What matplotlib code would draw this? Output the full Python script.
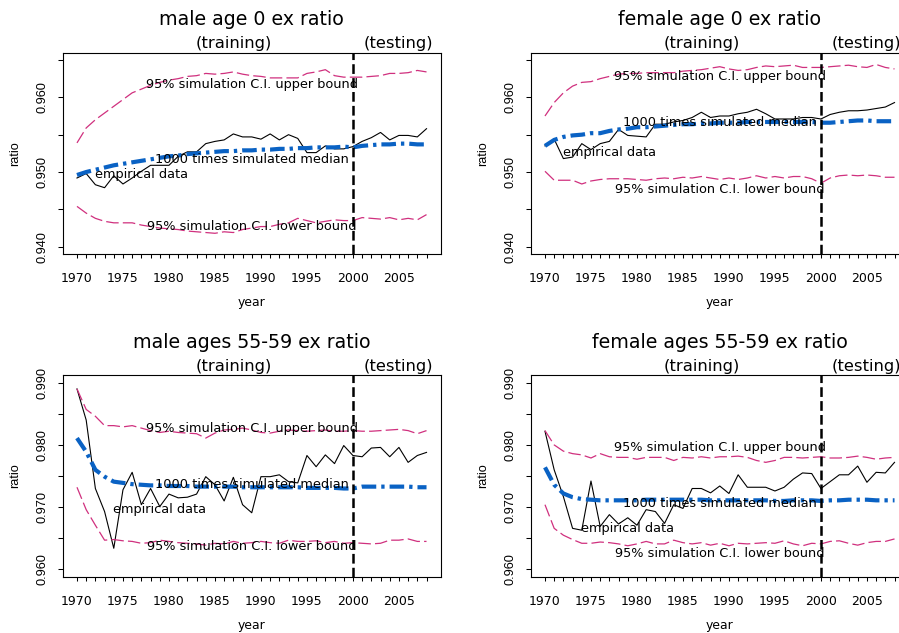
import numpy as np
import matplotlib
matplotlib.use('Agg')
import matplotlib.pyplot as plt
import matplotlib.transforms as mtransforms
from matplotlib.ticker import FixedLocator, FuncFormatter

plt.rcParams['lines.scale_dashes'] = False

years = list(range(1970, 2009))

# male age 0
emp1 = [0.9492, 0.9498, 0.9483, 0.9479, 0.9495, 0.9484, 0.9492, 0.9501, 0.9509, 0.9509,
        0.9509, 0.9521, 0.9527, 0.9527, 0.9538, 0.9541, 0.9543, 0.9551, 0.9547, 0.9547,
        0.9544, 0.9551, 0.9543, 0.9550, 0.9545, 0.9526, 0.9526, 0.9535, 0.9531, 0.9531,
        0.9534, 0.9541, 0.9546, 0.9553, 0.9543, 0.9549, 0.9549, 0.9547, 0.9558]
med1 = [0.9496, 0.9500, 0.9503, 0.9506, 0.9509, 0.9511, 0.9513, 0.9515, 0.9517, 0.9519,
        0.9521, 0.9522, 0.9524, 0.9525, 0.9526, 0.9527, 0.9528, 0.9528, 0.9529, 0.9529,
        0.9530, 0.9530, 0.9531, 0.9531, 0.9532, 0.9532, 0.9533, 0.9533, 0.9533, 0.9534,
        0.9533, 0.9535, 0.9536, 0.9537, 0.9537, 0.9538, 0.9538, 0.9537, 0.9537]
up1 = [0.9539, 0.9559, 0.9570, 0.9579, 0.9588, 0.9597, 0.9606, 0.9611, 0.9616, 0.9620,
       0.9623, 0.9625, 0.9628, 0.9629, 0.9632, 0.9631, 0.9632, 0.9634, 0.9631, 0.9629,
       0.9628, 0.9626, 0.9626, 0.9626, 0.9626, 0.9632, 0.9634, 0.9637, 0.9629, 0.9627,
       0.9627, 0.9627, 0.9628, 0.9629, 0.9632, 0.9632, 0.9633, 0.9636, 0.9634]
lo1 = [0.9454, 0.9445, 0.9438, 0.9434, 0.9432, 0.9432, 0.9432, 0.9429, 0.9427, 0.9425,
       0.9424, 0.9423, 0.9421, 0.9420, 0.9419, 0.9418, 0.9420, 0.9419, 0.9423, 0.9425,
       0.9427, 0.9427, 0.9430, 0.9432, 0.9438, 0.9435, 0.9432, 0.9434, 0.9436, 0.9435,
       0.9435, 0.9439, 0.9438, 0.9437, 0.9439, 0.9436, 0.9438, 0.9436, 0.9443]

# female age 0
emp2 = [0.9535, 0.9544, 0.9518, 0.9520, 0.9538, 0.9530, 0.9538, 0.9541, 0.9557, 0.9549,
        0.9548, 0.9547, 0.9564, 0.9564, 0.9567, 0.9569, 0.9573, 0.9580, 0.9573, 0.9575,
        0.9575, 0.9578, 0.9580, 0.9584, 0.9578, 0.9571, 0.9571, 0.9571, 0.9573, 0.9573,
        0.9571, 0.9577, 0.9580, 0.9582, 0.9582, 0.9583, 0.9585, 0.9587, 0.9593]
med2 = [0.9535, 0.9543, 0.9547, 0.9549, 0.9550, 0.9552, 0.9552, 0.9555, 0.9557, 0.9558,
        0.9560, 0.9560, 0.9561, 0.9562, 0.9563, 0.9564, 0.9564, 0.9565, 0.9565, 0.9566,
        0.9566, 0.9566, 0.9567, 0.9567, 0.9567, 0.9567, 0.9567, 0.9567, 0.9567, 0.9567,
        0.9566, 0.9566, 0.9567, 0.9568, 0.9569, 0.9569, 0.9568, 0.9568, 0.9568]
up2 = [0.9575, 0.9593, 0.9606, 0.9615, 0.9620, 0.9621, 0.9625, 0.9628, 0.9631, 0.9632,
       0.9632, 0.9633, 0.9633, 0.9633, 0.9633, 0.9635, 0.9636, 0.9637, 0.9639, 0.9641,
       0.9638, 0.9636, 0.9637, 0.9640, 0.9642, 0.9641, 0.9642, 0.9643, 0.9640, 0.9640,
       0.9640, 0.9641, 0.9642, 0.9643, 0.9641, 0.9640, 0.9644, 0.9640, 0.9638]
lo2 = [0.9501, 0.9489, 0.9489, 0.9489, 0.9484, 0.9488, 0.9490, 0.9491, 0.9491, 0.9491,
       0.9490, 0.9489, 0.9491, 0.9492, 0.9491, 0.9493, 0.9492, 0.9494, 0.9492, 0.9490,
       0.9492, 0.9490, 0.9492, 0.9495, 0.9492, 0.9494, 0.9492, 0.9494, 0.9494, 0.9491,
       0.9485, 0.9492, 0.9495, 0.9496, 0.9495, 0.9496, 0.9495, 0.9493, 0.9493]

# male ages 55-59
emp3 = [0.9890, 0.9840, 0.9730, 0.9693, 0.9634, 0.9728, 0.9756, 0.9704, 0.9730, 0.9701,
        0.9721, 0.9715, 0.9716, 0.9721, 0.9749, 0.9736, 0.9710, 0.9748, 0.9704, 0.9691,
        0.9749, 0.9749, 0.9752, 0.9741, 0.9739, 0.9783, 0.9765, 0.9784, 0.9770, 0.9799,
        0.9783, 0.9781, 0.9795, 0.9796, 0.9781, 0.9796, 0.9772, 0.9783, 0.9788]
med3 = [0.9811, 0.9789, 0.9760, 0.9749, 0.9741, 0.9739, 0.9737, 0.9736, 0.9735, 0.9735,
        0.9734, 0.9734, 0.9734, 0.9733, 0.9733, 0.9733, 0.9733, 0.9733, 0.9732, 0.9732,
        0.9732, 0.9732, 0.9732, 0.9732, 0.9732, 0.9731, 0.9731, 0.9731, 0.9731, 0.9730,
        0.9730, 0.9733, 0.9733, 0.9733, 0.9733, 0.9733, 0.9733, 0.9732, 0.9732]
up3 = [0.9890, 0.9857, 0.9846, 0.9831, 0.9831, 0.9829, 0.9831, 0.9827, 0.9823, 0.9820,
       0.9822, 0.9820, 0.9819, 0.9818, 0.9811, 0.9819, 0.9824, 0.9825, 0.9827, 0.9824,
       0.9820, 0.9819, 0.9822, 0.9824, 0.9823, 0.9822, 0.9823, 0.9824, 0.9822, 0.9822,
       0.9823, 0.9822, 0.9822, 0.9823, 0.9824, 0.9825, 0.9823, 0.9818, 0.9823]
lo3 = [0.9732, 0.9696, 0.9671, 0.9647, 0.9648, 0.9646, 0.9645, 0.9642, 0.9643, 0.9647,
       0.9645, 0.9643, 0.9642, 0.9641, 0.9639, 0.9642, 0.9641, 0.9645, 0.9642, 0.9643,
       0.9645, 0.9643, 0.9642, 0.9647, 0.9645, 0.9645, 0.9646, 0.9643, 0.9645, 0.9642,
       0.9643, 0.9642, 0.9641, 0.9642, 0.9647, 0.9647, 0.9649, 0.9645, 0.9645]

# female ages 55-59
emp4 = [0.9822, 0.9760, 0.9717, 0.9666, 0.9663, 0.9742, 0.9669, 0.9688, 0.9673, 0.9683,
        0.9671, 0.9696, 0.9693, 0.9674, 0.9704, 0.9698, 0.9730, 0.9730, 0.9723, 0.9734,
        0.9722, 0.9752, 0.9732, 0.9732, 0.9732, 0.9726, 0.9732, 0.9745, 0.9755, 0.9754,
        0.9730, 0.9741, 0.9752, 0.9752, 0.9766, 0.9740, 0.9756, 0.9755, 0.9772]
med4 = [0.9764, 0.9736, 0.9722, 0.9716, 0.9713, 0.9712, 0.9711, 0.9711, 0.9711, 0.9711,
        0.9711, 0.9712, 0.9712, 0.9712, 0.9712, 0.9712, 0.9712, 0.9712, 0.9711, 0.9711,
        0.9711, 0.9711, 0.9711, 0.9711, 0.9711, 0.9710, 0.9710, 0.9711, 0.9711, 0.9711,
        0.9710, 0.9711, 0.9711, 0.9712, 0.9712, 0.9712, 0.9711, 0.9711, 0.9711]
up4 = [0.9823, 0.9800, 0.9790, 0.9786, 0.9784, 0.9779, 0.9786, 0.9781, 0.9780, 0.9780,
       0.9777, 0.9780, 0.9780, 0.9780, 0.9775, 0.9780, 0.9779, 0.9781, 0.9779, 0.9781,
       0.9781, 0.9782, 0.9780, 0.9775, 0.9772, 0.9775, 0.9780, 0.9780, 0.9779, 0.9780,
       0.9781, 0.9779, 0.9779, 0.9780, 0.9782, 0.9780, 0.9777, 0.9779, 0.9780]
lo4 = [0.9704, 0.9666, 0.9655, 0.9648, 0.9642, 0.9642, 0.9644, 0.9643, 0.9641, 0.9638,
       0.9641, 0.9645, 0.9641, 0.9641, 0.9647, 0.9643, 0.9641, 0.9643, 0.9639, 0.9642,
       0.9638, 0.9642, 0.9641, 0.9642, 0.9643, 0.9642, 0.9646, 0.9641, 0.9638, 0.9642,
       0.9641, 0.9645, 0.9646, 0.9642, 0.9639, 0.9643, 0.9645, 0.9645, 0.9649]

titles = ['male age 0 ex ratio', 'female age 0 ex ratio',
          'male ages 55-59 ex ratio', 'female ages 55-59 ex ratio']
ylims = [(0.94, 0.965), (0.94, 0.965), (0.96, 0.99), (0.96, 0.99)]
# label positions (x, y) for: upper, median, empirical, lower
label_pos = [
    [(1989, 0.9617), (1989, 0.95173), (1977, 0.94962), (1989, 0.94268)],
    [(1989, 0.96274), (1989, 0.95664), (1977, 0.95262), (1989, 0.94770)],
    [(1989, 0.98256), (1989, 0.97367), (1979, 0.96965), (1989, 0.96375)],
    [(1989, 0.97955), (1989, 0.97061), (1979, 0.96659), (1989, 0.96257)],
]
label_txt = ['95% simulation C.I. upper bound', '1000 times simulated median',
             'empirical data', '95% simulation C.I. lower bound']

data = [(emp1, med1, up1, lo1), (emp2, med2, up2, lo2),
        (emp3, med3, up3, lo3), (emp4, med4, up4, lo4)]

W, H = 899, 633
rects = [(63, 52.5), (531, 52.5), (63, 375.2), (531, 375.2)]
aw, ah = 377.5, 201.7

pink = '#d0307e'
blue = '#0a62c4'

fig = plt.figure(figsize=(W / 100, H / 100), dpi=100)

for k in range(4):
    x0, y0 = rects[k]
    ax = fig.add_axes([x0 / W, 1 - (y0 + ah) / H, aw / W, ah / H])
    emp, med, up, lo = data[k]
    ax.plot(years, emp, color='black', lw=0.8)
    ax.plot(years, med, color=blue, lw=3.0, dashes=(10.5, 3.6, 2.4, 3.6))
    ax.plot(years, up, color=pink, lw=0.9, dashes=(9, 3))
    ax.plot(years, lo, color=pink, lw=0.9, dashes=(9, 3))
    ax.axvline(2000, color='black', lw=1.8, dashes=(7, 3))

    lo_y, hi_y = ylims[k]
    pad = 0.04 * (hi_y - lo_y)
    ax.set_ylim(lo_y - pad, hi_y + pad)
    ax.set_xlim(1970 - 0.04 * 38, 2008 + 0.04 * 38)

    ax.xaxis.set_major_locator(FixedLocator(years))
    ax.xaxis.set_major_formatter(FuncFormatter(lambda v, p: '%d' % v if int(round(v)) % 5 == 0 else ''))
    yt = np.arange(lo_y, hi_y + 1e-9, 0.005)
    ax.yaxis.set_major_locator(FixedLocator(yt))
    ax.yaxis.set_major_formatter(FuncFormatter(lambda v, p: '%.3f' % v if int(round(v * 1000)) % 10 == 0 else ''))
    ax.tick_params(axis='x', length=3.2, width=0.75, pad=9.5, labelsize=9)
    ax.tick_params(axis='y', length=3.6, width=0.75, pad=7, labelsize=9.2, labelrotation=90)
    for t in ax.get_yticklabels():
        t.set_va('center')
        t.set_family('Liberation Sans')
    for s in ax.spines.values():
        s.set_linewidth(0.8)

    for (tx, ty), txt in zip(label_pos[k], label_txt):
        ax.text(tx, ty, txt, ha='center', va='center', fontsize=9.25)

    ax.text(0.5, 1 + 33 / ah, titles[k], transform=ax.transAxes,
            ha='center', va='center', fontsize=13.7)
    trans = mtransforms.blended_transform_factory(ax.transData, ax.transAxes)
    ax.text(1987, 1 + 9 / ah, '(training)', transform=trans, ha='center', va='center', fontsize=11.8)
    ax.text(2005, 1 + 9 / ah, '(testing)', transform=trans, ha='center', va='center', fontsize=11.8)
    ax.text(0.5, -48.5 / ah, 'year', transform=ax.transAxes, ha='center', va='center', fontsize=8.9)
    ax.text(-48 / aw, 0.5, 'ratio', transform=ax.transAxes, ha='center', va='center',
            rotation=90, fontsize=9.1, family='Liberation Sans')

fig.savefig('out.png', dpi=100)
